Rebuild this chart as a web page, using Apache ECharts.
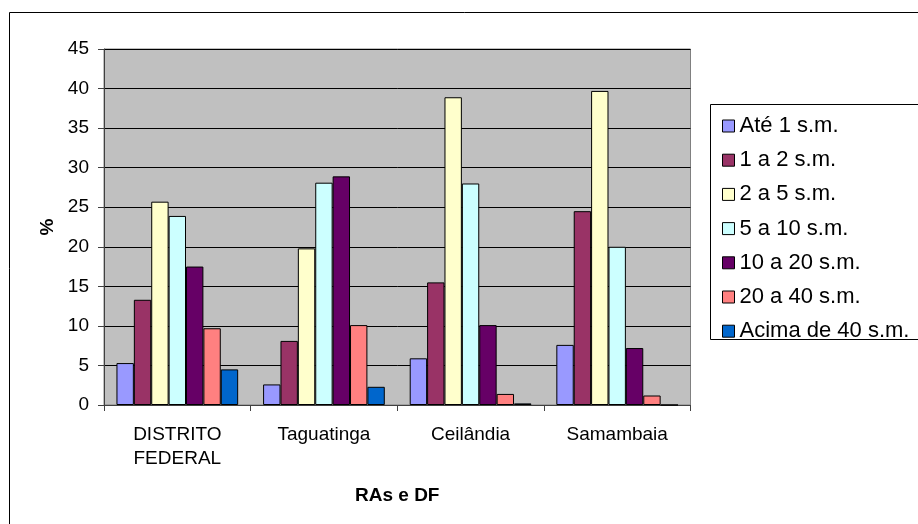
<!DOCTYPE html>
<html>
<head>
<meta charset="utf-8">
<script src="https://cdn.jsdelivr.net/npm/echarts@6/dist/echarts.min.js"></script>
<style>
html,body{margin:0;padding:0;background:#fff;}
#chart{width:918px;height:524px;}
</style>
</head>
<body>
<div id="chart"></div>
<script>
const categories = ['DISTRITO\nFEDERAL', 'Taguatinga', 'Ceilândia', 'Samambaia'];
const seriesNames = ['Até 1 s.m.', '1 a 2 s.m.', '2 a 5 s.m.', '5 a 10 s.m.', '10 a 20 s.m.', '20 a 40 s.m.', 'Acima de 40 s.m.'];
const ate1 = [5.3, 2.6, 5.9, 7.6];
const de1a2 = [13.3, 8.1, 15.5, 24.5];
const de2a5 = [25.7, 19.8, 38.9, 39.7];
const de5a10 = [23.9, 28.1, 28.0, 20.0];
const de10a20 = [17.5, 28.9, 10.1, 7.2];
const de20a40 = [9.7, 10.1, 1.4, 1.2];
const acima40 = [4.5, 2.3, 0.2, 0];
const yTicks = [0, 5, 10, 15, 20, 25, 30, 35, 40, 45];
const colors = ['#9999FF', '#993366', '#FFFFCC', '#CCFFFF', '#660066', '#FF8080', '#0066CC'];

const allValues = [ate1, de1a2, de2a5, de5a10, de10a20, de20a40, acima40];
const font = 'Liberation Sans, Arial, sans-serif';

const chart = echarts.init(document.getElementById('chart'), null, {renderer: 'canvas'});
chart.setOption({
  animation: false,
  backgroundColor: '#ffffff',
  textStyle: {fontFamily: font},
  graphic: [
    {type: 'rect', shape: {x: 9.5, y: 12.5, width: 1000, height: 1000}, style: {fill: 'none', stroke: '#000', lineWidth: 1}, z: 0},
    {type: 'rect', shape: {x: 710.5, y: 104.5, width: 400, height: 235}, style: {fill: '#fff', stroke: '#000', lineWidth: 1}, z: 1}
  ],
  grid: {
    left: 104, top: 49, width: 586.5, height: 356,
    show: true, backgroundColor: '#C0C0C0', borderColor: '#808080', borderWidth: 1
  },
  legend: {
    orient: 'vertical',
    left: 717, top: 110,
    itemWidth: 12, itemHeight: 12,
    itemGap: 12.2,
    icon: 'rect',
    data: seriesNames,
    textStyle: {fontFamily: font, fontSize: 22, color: '#000', lineHeight: 22},
    itemStyle: {borderColor: '#000', borderWidth: 1},
    z: 5
  },
  xAxis: {
    type: 'category',
    data: categories,
    name: 'RAs e DF',
    nameLocation: 'middle',
    nameGap: 81,
    nameTextStyle: {fontFamily: font, fontSize: 19, fontWeight: 'bold', color: '#000'},
    axisLine: {show: true, lineStyle: {color: '#404040', width: 1}},
    axisTick: {show: true, length: 6, alignWithLabel: false, lineStyle: {color: '#404040'}},
    axisLabel: {fontFamily: font, fontSize: 19, color: '#000', margin: 18, lineHeight: 24, interval: 0},
    splitLine: {show: false}
  },
  yAxis: {
    type: 'value',
    min: 0, max: 45, interval: 5,
    name: '%',
    nameLocation: 'middle',
    nameGap: 44,
    nameRotate: 90,
    nameTextStyle: {fontFamily: font, fontSize: 19, fontWeight: 'bold', color: '#000'},
    axisLine: {show: true, lineStyle: {color: '#404040', width: 1}},
    axisTick: {show: true, length: 6, lineStyle: {color: '#404040'}},
    axisLabel: {fontFamily: font, fontSize: 19, color: '#000', margin: 15,
      formatter: function (v) { return yTicks.indexOf(v) >= 0 ? String(v) : ''; }},
    splitLine: {show: true, lineStyle: {color: '#000', width: 1}}
  },
  series: seriesNames.map(function (name, i) {
    return {
      name: name,
      type: 'bar',
      data: allValues[i],
      barGap: '0%',
      barCategoryGap: '17%',
      itemStyle: {color: colors[i], borderColor: '#000', borderWidth: 1},
      z: 3
    };
  })
});
</script>
</body>
</html>
